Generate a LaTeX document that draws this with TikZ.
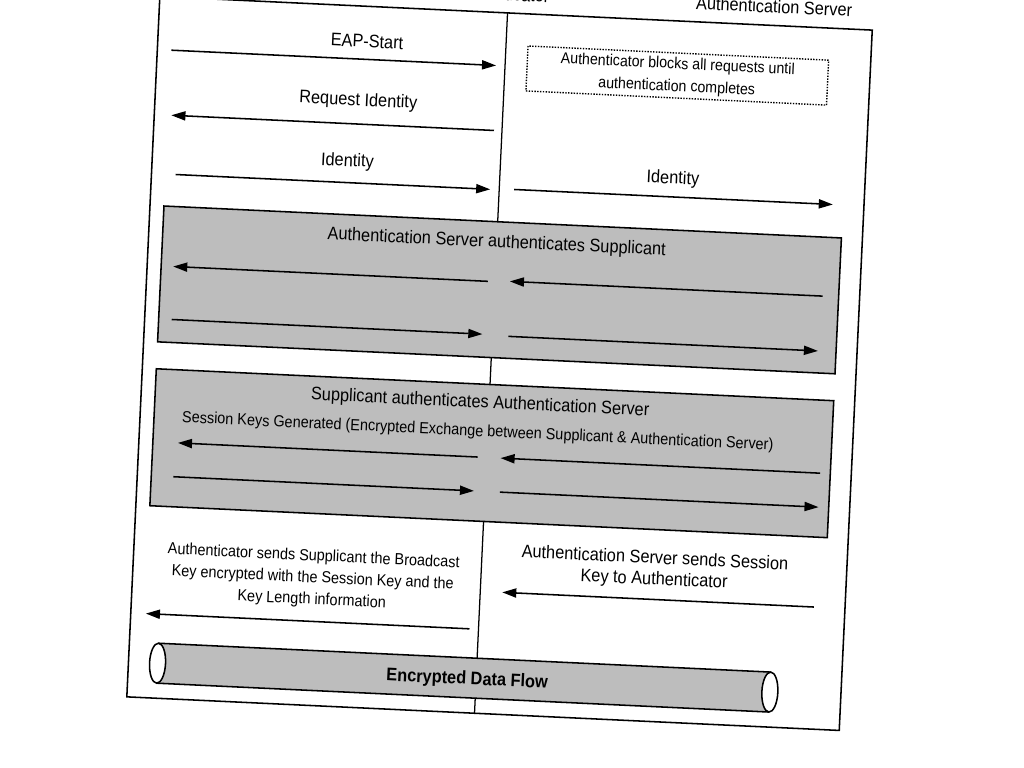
\documentclass[tikz,border=0pt]{standalone}
\usepackage{fontspec}
\setmainfont[FakeStretch=0.9]{Liberation Sans}
\usetikzlibrary{arrows.meta}
\begin{document}
\begin{tikzpicture}[x=0.025cm,y=-0.025cm,
  big/.style={font=\fontsize{12.9}{15}\selectfont, inner sep=0pt, align=center},
  small/.style={font=\fontsize{11.4}{15.5}\selectfont, inner sep=0pt, align=center},
  arr/.style={line width=1.1pt, -{Triangle[length=10pt,width=6.5pt]}},
  graybox/.style={draw, line width=1.1pt, fill=black!26, inner sep=0pt},
  framebox/.style={draw, line width=1.1pt, inner sep=0pt},
  dotbox/.style={draw, densely dotted, line width=1pt, inner sep=0pt}]
\useasboundingbox (0,0) rectangle (1024,768);
\clip (0,0) rectangle (1024,768);
\begin{scope}[rotate around={-2.7:(500,364)}, transform shape]
  % frame and divider
  \node[framebox, minimum width=507.2pt, minimum height=498.6pt] (frame) at (499.5,363.5) {};
  \coordinate (dt) at (491,13);
  \coordinate (db) at (491,714);
  \draw[line width=0.9pt] (dt) -- (db);
  % headers (clipped)
  \node[big] (hauth) at (484,-6) {Authenticator};
  \node[big] (hserv) at (757,-6) {Authentication Server};
  % EAP-Start
  \node[big] (leap) at (352,48) {EAP-Start};
  \coordinate (e1) at (157,66); \coordinate (e2) at (482,66);
  \draw[arr] (e1) -- (e2);
  % dotted box
  \node[dotbox, minimum width=214pt, minimum height=32pt] (blk) at (663.5,67.5) {};
  \node[small, font=\fontsize{11.2}{16}\selectfont] (blktxt) at (663.5,68) {Authenticator blocks all requests until\\authentication completes};
  % Request identity
  \node[big] (lreq) at (346,108) {Request Identity};
  \coordinate (r1) at (483,131); \coordinate (r2) at (160,131);
  \draw[arr] (r1) -- (r2);
  % Identity
  \node[big] (lid1) at (338,169) {Identity};
  \coordinate (i1) at (167,190); \coordinate (i2) at (482,190);
  \draw[arr] (i1) -- (i2);
  \node[big] (lid2) at (664,171) {Identity};
  \coordinate (j1) at (506,189); \coordinate (j2) at (825,189);
  \draw[arr] (j1) -- (j2);
  % box 1
  \node[graybox, minimum width=482.3pt, minimum height=96.7pt] (box1) at (496,290) {};
  \node[big] (t1) at (491,243) {Authentication Server authenticates Supplicant};
  \coordinate (a1) at (484,282); \coordinate (a2) at (169,282);
  \coordinate (b1) at (819,281); \coordinate (b2) at (506,281);
  \coordinate (c1) at (170,335); \coordinate (c2) at (481,335);
  \coordinate (d1) at (507,336); \coordinate (d2) at (817,336);
  \draw[arr] (a1) -- (a2);
  \draw[arr] (b1) -- (b2);
  \draw[arr] (c1) -- (c2);
  \draw[arr] (d1) -- (d2);
  % box 2
  \node[graybox, minimum width=482.3pt, minimum height=97.5pt] (box2) at (496,453.5) {};
  \node[big] (t2) at (482,404) {Supplicant authenticates Authentication Server};
  \node[small] (t2b) at (481,433) {Session Keys Generated (Encrypted Exchange between Supplicant \& Authentication Server)};
  \coordinate (f1) at (482,458); \coordinate (f2) at (182,458);
  \coordinate (g1) at (825,458); \coordinate (g2) at (505,458);
  \coordinate (h1) at (179,492); \coordinate (h2) at (480,492);
  \coordinate (k1) at (506,492); \coordinate (k2) at (825,492);
  \draw[arr] (f1) -- (f2);
  \draw[arr] (g1) -- (g2);
  \draw[arr] (h1) -- (h2);
  \draw[arr] (k1) -- (k2);
  % bottom texts
  \node[small] (bl) at (323,587) {Authenticator sends Supplicant the Broadcast\\Key encrypted with the Session Key and the\\Key Length information};
  \coordinate (m1) at (482,630); \coordinate (m2) at (158,630);
  \draw[arr] (m1) -- (m2);
  \node[big] (br) at (664,562) {Authentication Server sends Session\\Key to Authenticator};
  \coordinate (n1) at (825,592); \coordinate (n2) at (513,592);
  \draw[arr] (n1) -- (n2);
  % cylinder
  \fill[black!26] (172,659) rectangle (785,699);
  \draw[line width=1.1pt] (172,659) -- (785,659);
  \draw[line width=1.1pt] (172,699) -- (785,699);
  \draw[line width=1.1pt, fill=white] (172,679) ellipse [x radius=8, y radius=20];
  \draw[line width=1.1pt, fill=white] (785,679) ellipse [x radius=8, y radius=20];
  \node[big, font=\fontsize{12.9}{15}\selectfont\bfseries] (edf) at (482,681) {Encrypted Data Flow};
\end{scope}
\end{tikzpicture}
\end{document}
